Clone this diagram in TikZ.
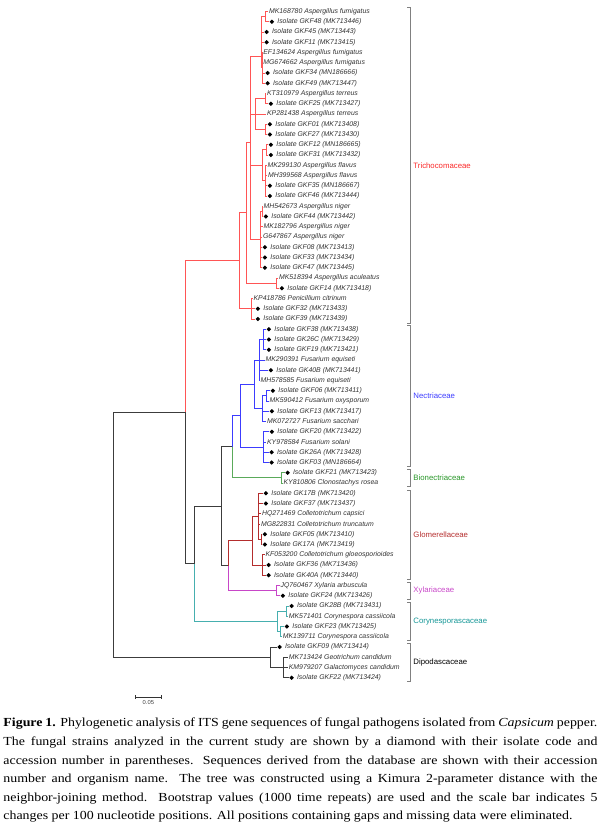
\documentclass[tikz,border=0pt]{standalone}
\usepackage{fontspec}
\setmainfont{Liberation Serif}
\newfontfamily\treefont{Liberation Sans}
\newfontfamily\capfont{Liberation Serif}[FakeStretch=1.13]
\usetikzlibrary{shapes.geometric, arrows.meta, positioning, calc}
\definecolor{backbone}{RGB}{60, 60, 60}
\definecolor{tricho}{RGB}{255, 85, 85}
\definecolor{trichotxt}{RGB}{250, 40, 40}
\definecolor{nectria}{RGB}{60, 60, 255}
\definecolor{bionect}{RGB}{90, 170, 90}
\definecolor{bionecttxt}{RGB}{40, 150, 40}
\definecolor{glomer}{RGB}{180, 45, 45}
\definecolor{xylar}{RGB}{200, 70, 200}
\definecolor{coryne}{RGB}{70, 175, 175}
\definecolor{corynetxt}{RGB}{20, 150, 150}

% leaf of a database sequence: name, parent, end x, row, label
\newcommand{\seqleaf}[5]{%
  \coordinate (#1) at (#3,{11.5+(#4-1)*10.25});
  \draw (#2) |- (#1);
  \node[leaf] (#1-t) at (#1) {#5};}
% leaf of an isolate of this study, with a diamond
\newcommand{\isoleaf}[5]{%
  \coordinate (#1) at (#3,{11.5+(#4-1)*10.25});
  \draw (#2) |- (#1);
  \node[gem] (#1-d) at (#1) {};
  \node[leaf, right=1.6pt of #1-d] (#1-t) {Isolate #5};}
% family bracket: name, top, bottom, colour, label
\newcommand{\family}[5]{%
  \draw[bracket] (407,#2) -- (410.5,#2) -- (410.5,#3) -- (407,#3);
  \node[famlabel, text=#4] (#1) at (413,{(#2+#3)/2}) {#5};}

\begin{document}
\begin{tikzpicture}[x=1pt, y=-1pt, line width=0.9pt,
    leaf/.style={anchor=west, inner sep=0.6pt, text=black!80,
      font=\treefont\itshape\fontsize{6.9}{7}\selectfont},
    gem/.style={diamond, fill=black, draw=none, inner sep=0pt,
      minimum size=4.8pt, anchor=west},
    bracket/.style={draw=black!50, line width=0.8pt},
    famlabel/.style={anchor=west, inner sep=0pt,
      font=\treefont\fontsize{7.8}{9}\selectfont},
    capline/.style={anchor=west, inner sep=0pt,
      font=\capfont\fontsize{12.3}{14}\selectfont}]
\useasboundingbox (0,0) rectangle (600,831);

% Backbone
\coordinate (root) at (113.3,534.75);
\coordinate (n1) at (185,412.25);
\coordinate (n2) at (194,563.8);
\coordinate (n3) at (221.7,506.2);
\coordinate (n4) at (232.7,446.8);
\coordinate (n5) at (228.3,565.6);
\begin{scope}[color=backbone]
  \draw (root) |- (n1);
  \draw (n1) |- (n2);
  \draw (n2) |- (n3);
  \draw (n3) |- (n4);
  \draw (n3) |- (n5);
\end{scope}

% Trichocomaceae
\coordinate (tri1) at (239,260.7);
\coordinate (tri2) at (246.7,212.7);
\coordinate (tri3) at (250.5,142.2);
\coordinate (fum) at (261,56);
\coordinate (fumA) at (265,16.63);
\coordinate (fumB) at (262,67.9);
\coordinate (ter) at (255,114);
\coordinate (terA) at (265,98.63);
\coordinate (terB) at (265.5,129.38);
\coordinate (fla) at (262,165.25);
\coordinate (flaA) at (266,149.88);
\coordinate (flaB) at (265,180.63);
\coordinate (nig) at (260,239.56);
\coordinate (nigA) at (262,211.38);
\coordinate (acu) at (276,283.13);
\coordinate (pen) at (251,308.75);
\begin{scope}[color=tricho]
  \draw (n1) |- (tri1);
  \draw (tri1) |- (tri2);  \draw (tri1) |- (pen);
  \draw (tri2) |- (tri3);  \draw (tri2) |- (acu);
  \draw (tri3) |- (fum);   \draw (tri3) |- (ter);
  \draw (tri3) |- (fla);   \draw (tri3) |- (nig);
  \draw (fum) |- (fumA);   \draw (fum) |- (fumB);
  \draw (ter) |- (terA);   \draw (ter) |- (terB);
  \draw (fla) |- (flaA);   \draw (fla) |- (flaB);
  \draw (nig) |- (nigA);
  \seqleaf{l1}{fumA}{268}{1}{MK168780 Aspergillus fumigatus}
  \isoleaf{l2}{fumA}{269}{2}{GKF48 (MK713446)}
  \isoleaf{l3}{fum}{263.7}{3}{GKF45 (MK713443)}
  \isoleaf{l4}{fum}{263.7}{4}{GKF11 (MK713415)}
  \seqleaf{l5}{fumB}{262.3}{5}{EF134624 Aspergillus fumigatus}
  \seqleaf{l6}{fumB}{262.3}{6}{MG674662 Aspergillus fumigatus}
  \isoleaf{l7}{fumB}{264.7}{7}{GKF34 (MN186666)}
  \isoleaf{l8}{fumB}{264.7}{8}{GKF49 (MK713447)}
  \seqleaf{l9}{terA}{266}{9}{KT310979 Aspergillus terreus}
  \isoleaf{l10}{terA}{268}{10}{GKF25 (MK713427)}
  \seqleaf{l11}{ter}{266}{11}{KP281438 Aspergillus terreus}
  \isoleaf{l12}{terB}{267}{12}{GKF01 (MK713408)}
  \isoleaf{l13}{terB}{267}{13}{GKF27 (MK713430)}
  \isoleaf{l14}{flaA}{268}{14}{GKF12 (MN186665)}
  \isoleaf{l15}{flaA}{268}{15}{GKF31 (MK713432)}
  \seqleaf{l16}{flaB}{266.5}{16}{MK299130 Aspergillus flavus}
  \seqleaf{l17}{flaB}{267}{17}{MH399568 Aspergillus flavus}
  \isoleaf{l18}{flaB}{267}{18}{GKF35 (MN186667)}
  \isoleaf{l19}{flaB}{267}{19}{GKF46 (MK713444)}
  \seqleaf{l20}{nigA}{262.5}{20}{MH542673 Aspergillus niger}
  \isoleaf{l21}{nigA}{263}{21}{GKF44 (MK713442)}
  \seqleaf{l22}{nig}{262.5}{22}{MK182796 Aspergillus niger}
  \seqleaf{l23}{nig}{262}{23}{G647867 Aspergillus niger}
  \isoleaf{l24}{nig}{262}{24}{GKF08 (MK713413)}
  \isoleaf{l25}{nig}{262}{25}{GKF33 (MK713434)}
  \isoleaf{l26}{nig}{262}{26}{GKF47 (MK713445)}
  \seqleaf{l27}{acu}{278}{27}{MK518394 Aspergillus aculeatus}
  \isoleaf{l28}{acu}{279}{28}{GKF14 (MK713418)}
  \seqleaf{l29}{pen}{252.5}{29}{KP418786 Penicillium citrinum}
  \isoleaf{l30}{pen}{255}{30}{GKF32 (MK713433)}
  \isoleaf{l31}{pen}{255}{31}{GKF39 (MK713439)}
\end{scope}

% Nectriaceae
\coordinate (nec) at (240,415.7);
\coordinate (necA) at (254,384.35);
\coordinate (equ) at (259.5,360);
\coordinate (equA) at (263,339.5);
\coordinate (oxy) at (262,408.7);
\coordinate (oxyA) at (266,395.88);
\coordinate (sol) at (263.3,447.13);
\begin{scope}[color=nectria]
  \draw (n4) |- (nec);
  \draw (nec) |- (necA);  \draw (nec) |- (sol);
  \draw (necA) |- (equ);  \draw (necA) |- (oxy);
  \draw (equ) |- (equA);  \draw (oxy) |- (oxyA);
  \isoleaf{l32}{equA}{266}{32}{GKF38 (MK713438)}
  \isoleaf{l33}{equA}{266}{33}{GK26C (MK713429)}
  \isoleaf{l34}{equA}{266}{34}{GKF19 (MK713421)}
  \seqleaf{l35}{equ}{264.5}{35}{MK290391 Fusarium equiseti}
  \isoleaf{l36}{equ}{268}{36}{GK40B (MK713441)}
  \seqleaf{l37}{equ}{259.5}{37}{MH578585 Fusarium equiseti}
  \isoleaf{l38}{oxyA}{270}{38}{GKF06 (MK713411)}
  \seqleaf{l39}{oxyA}{268.5}{39}{MK590412 Fusarium oxysporum}
  \isoleaf{l40}{oxy}{269}{40}{GKF13 (MK713417)}
  \seqleaf{l41}{oxy}{266}{41}{MK072727 Fusarium sacchari}
  \isoleaf{l42}{sol}{269}{42}{GKF20 (MK713422)}
  \seqleaf{l43}{sol}{266}{43}{KY978584 Fusarium solani}
  \isoleaf{l44}{sol}{268.7}{44}{GK26A (MK713428)}
  \isoleaf{l45}{sol}{268.7}{45}{GKF03 (MN186664)}
\end{scope}

% Bionectriaceae
\coordinate (bio) at (281.7,477.88);
\begin{scope}[color=bionect]
  \draw (n4) |- (bio);
  \isoleaf{l46}{bio}{284.7}{46}{GKF21 (MK713423)}
  \seqleaf{l47}{bio}{282.5}{47}{KY810806 Clonostachys rosea}
\end{scope}

% Glomerellaceae
\coordinate (glo) at (252.7,540.65);
\coordinate (gloA) at (258,516.3);
\coordinate (gloB) at (261,539.38);
\coordinate (gloC) at (262,565);
\begin{scope}[color=glomer]
  \draw (n5) |- (glo);
  \draw (glo) |- (gloA);  \draw (glo) |- (gloC);
  \draw (gloA) |- (gloB);
  \isoleaf{l48}{gloA}{263}{48}{GK17B (MK713420)}
  \isoleaf{l49}{gloA}{263}{49}{GKF37 (MK713437)}
  \seqleaf{l50}{gloA}{261}{50}{HQ271469 Colletotrichum capsici}
  \seqleaf{l51}{gloA}{260}{51}{MG822831 Colletotrichum truncatum}
  \isoleaf{l52}{gloB}{262}{52}{GKF05 (MK713410)}
  \isoleaf{l53}{gloB}{262}{53}{GK17A (MK713419)}
  \seqleaf{l54}{gloC}{264.5}{54}{KF053200 Colletotrichum gloeosporioides}
  \isoleaf{l55}{gloC}{265.7}{55}{GKF36 (MK713436)}
  \isoleaf{l56}{gloC}{265.7}{56}{GK40A (MK713440)}
\end{scope}

% Xylariaceae
\coordinate (xyl) at (276.7,590.63);
\begin{scope}[color=xylar]
  \draw (n5) |- (xyl);
  \seqleaf{l57}{xyl}{279.5}{57}{JQ760467 Xylaria arbuscula}
  \isoleaf{l58}{xyl}{280}{58}{GKF24 (MK713426)}
\end{scope}

% Corynesporascaceae
\coordinate (cor) at (277,621.38);
\coordinate (corA) at (286,611.13);
\coordinate (corB) at (280,631.63);
\begin{scope}[color=coryne]
  \draw (n2) |- (cor);
  \draw (cor) |- (corA);  \draw (cor) |- (corB);
  \isoleaf{l59}{corA}{288.7}{59}{GK28B (MK713431)}
  \seqleaf{l60}{corA}{287.8}{60}{MK571401 Corynespora cassiicola}
  \isoleaf{l61}{corB}{284}{61}{GKF23 (MK713425)}
  \seqleaf{l62}{corB}{281.8}{62}{MK139711 Corynespora cassiicola}
\end{scope}

% Dipodascaceae
\coordinate (dip) at (270.7,657.25);
\coordinate (dipA) at (283,667.5);
\begin{scope}[color=backbone]
  \draw (root) |- (dip);
  \draw (dip) |- (dipA);
  \isoleaf{l63}{dip}{276.7}{63}{GKF09 (MK713414)}
  \seqleaf{l64}{dipA}{287.8}{64}{MK713424 Geotrichum candidum}
  \seqleaf{l65}{dipA}{287.8}{65}{KM979207 Galactomyces candidum}
  \isoleaf{l66}{dipA}{288.7}{66}{GKF22 (MK713424)}
\end{scope}

% Families
\family{trichocomaceae}{7}{323.5}{trichotxt}{Trichocomaceae}
\family{nectriaceae}{325.5}{466}{nectria}{Nectriaceae}
\family{bionectriaceae}{469.5}{486.5}{bionecttxt}{Bionectriaceae}
\family{glomerellaceae}{490}{579}{glomer}{Glomerellaceae}
\family{xylariaceae}{582.5}{599}{xylar}{Xylariaceae}
\family{corynesporascaceae}{602.5}{640.5}{corynetxt}{Corynesporascaceae}
\family{dipodascaceae}{643.5}{681.5}{black}{Dipodascaceae}

% Scale bar
\coordinate (sbl) at (135,697);
\coordinate (sbr) at (161.7,697);
\draw[black!80, line width=0.8pt, {Bar[width=3.5pt]}-{Bar[width=3.5pt]}] (sbl) -- (sbr);
\node[inner sep=0pt, text=black!75, font=\treefont\fontsize{5.8}{6}\selectfont,
  below=2.5pt of $(sbl)!0.5!(sbr)$] (sblabel) {0.05};

% Caption
\node[capline] (cap1) at (3,724) {\makebox[594pt][s]{\textbf{Figure 1.} Phylogenetic analysis of ITS gene sequences of fungal pathogens isolated from \textit{Capsicum} pepper.}};
\node[capline] (cap2) at (3,742.6) {\makebox[594pt][s]{The fungal strains analyzed in the current study are shown by a diamond with their isolate code and}};
\node[capline] (cap3) at (3,761.2) {\makebox[594pt][s]{accession number in parentheses. Sequences derived from the database are shown with their accession}};
\node[capline] (cap4) at (3,779.8) {\makebox[594pt][s]{number and organism name. The tree was constructed using a Kimura 2-parameter distance with the}};
\node[capline] (cap5) at (3,798.4) {\makebox[594pt][s]{neighbor-joining method.\ \ Bootstrap values (1000 time repeats) are used and the scale bar indicates 5}};
\node[capline] (cap6) at (3,817) {changes per 100 nucleotide positions. All positions containing gaps and missing data were eliminated.};
\end{tikzpicture}
\end{document}
